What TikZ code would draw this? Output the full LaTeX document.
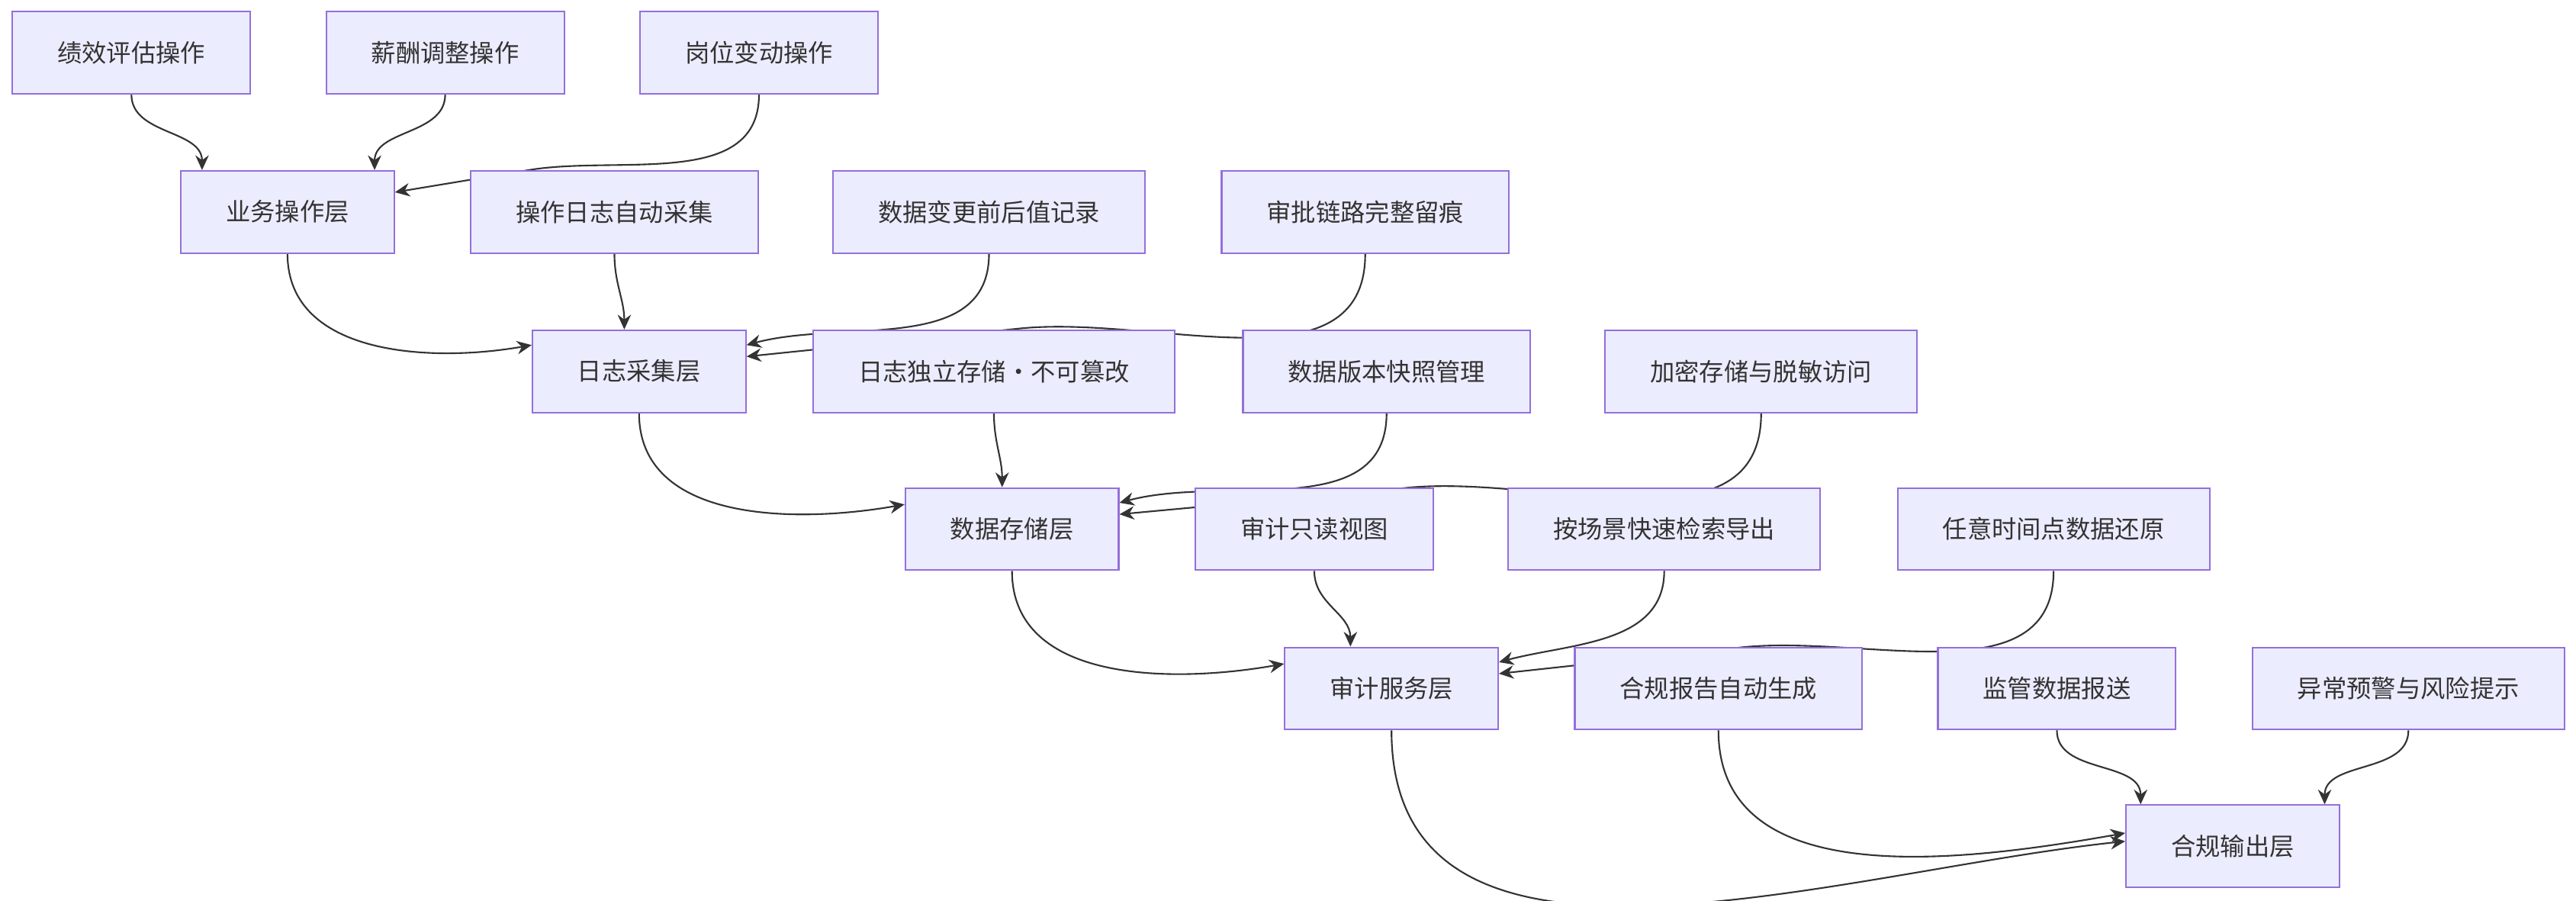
\documentclass[tikz,border=0pt]{standalone}
\usepackage{fontspec}
\setmainfont{Noto Sans CJK SC}
\usetikzlibrary{arrows.meta, calc, backgrounds}
\definecolor{boxfill}{HTML}{ECECFF}
\definecolor{boxline}{HTML}{9370DB}
\definecolor{pilcol}{HTML}{333333}

\begin{document}
\begin{tikzpicture}[
    x=0.02154cm, y=0.02154cm,
    punkt/.style = {rectangle, draw=boxline, fill=boxfill, line width=0.6pt,
                    minimum height=1.077cm, inner xsep=0.59cm, text=pilcol},
    pil/.style = {pilcol, line width=0.6pt, -{Stealth[length=5.5pt,width=5pt]}},
    font=\fontsize{9.2}{11}\selectfont
    ]
  \useasboundingbox (0,0) rectangle (1568,-548);

  \node[punkt] (jx) at (80,-32) {绩效评估操作};
  \node[punkt] (xc) at (271,-32) {薪酬调整操作};
  \node[punkt] (gw) at (462,-32) {岗位变动操作};

  \node[punkt] (yw) at (175,-129) {业务操作层};
  \node[punkt] (czrz) at (374,-129) {操作日志自动采集};
  \node[punkt] (sjbg) at (602,-129) {数据变更前后值记录};
  \node[punkt] (spll) at (831,-129) {审批链路完整留痕};

  \node[punkt] (rz) at (389,-226) {日志采集层};
  \node[punkt] (dlcc) at (605,-226) {日志独立存储·不可篡改};
  \node[punkt] (bbkz) at (844,-226) {数据版本快照管理};
  \node[punkt] (jmcc) at (1072,-226) {加密存储与脱敏访问};

  \node[punkt] (cc) at (616,-322) {数据存储层};
  \node[punkt] (sjst) at (800,-322) {审计只读视图};
  \node[punkt] (acj) at (1013,-322) {按场景快速检索导出};
  \node[punkt] (rysj) at (1250,-322) {任意时间点数据还原};

  \node[punkt] (fw) at (847,-419) {审计服务层};
  \node[punkt] (hgbg) at (1046,-419) {合规报告自动生成};
  \node[punkt] (jg) at (1252,-419) {监管数据报送};
  \node[punkt] (yc) at (1466,-419) {异常预警与风险提示};

  \node[punkt] (hg) at (1359,-515) {合规输出层};

  \begin{scope}[on background layer]
  % operations into the business layer
  \draw[pil] (jx.south) to[out=-90,in=90] ($(yw.north)+(-52,0)$);
  \draw[pil] (xc.south) to[out=-90,in=90] ($(yw.north)+(53,0)$);
  \draw[pil] (gw.south) to[out=-90,in=8] (325,-103) -- ($(yw.east)+(0,12)$);

  % log capture
  \draw[pil] (yw.south) to[out=-90,in=190] ($(rz.west)+(0,16)$);
  \draw[pil] (czrz.south) to[out=-90,in=90] ($(rz.north)+(-9,0)$);
  \draw[pil] (sjbg.south) to[out=-90,in=15] ($(rz.east)+(0,16)$);
  \draw[pil] (spll.south) to[out=-90,in=6] (620,-200) -- ($(rz.east)+(0,9)$);

  % storage
  \draw[pil] (rz.south) to[out=-90,in=190] ($(cc.west)+(0,15)$);
  \draw[pil] (dlcc.south) to[out=-90,in=90] ($(cc.north)+(-6,0)$);
  \draw[pil] (bbkz.south) to[out=-90,in=15] ($(cc.east)+(0,16)$);
  \draw[pil] (jmcc.south) to[out=-90,in=6] (855,-297) -- ($(cc.east)+(0,9)$);

  % audit service
  \draw[pil] (cc.south) to[out=-90,in=190] ($(fw.west)+(0,15)$);
  \draw[pil] (sjst.south) to[out=-90,in=90] ($(fw.north)+(-25,0)$);
  \draw[pil] (acj.south) to[out=-90,in=15] ($(fw.east)+(0,16)$);
  \draw[pil] (rysj.south) to[out=-90,in=6] (1060,-394) -- ($(fw.east)+(0,9)$);

  % compliance output
  \draw[pil] (fw.south) to[out=-90,in=186] ($(hg.west)+(0,3)$);
  \draw[pil] (hgbg.south) to[out=-90,in=190] ($(hg.west)+(0,8)$);
  \draw[pil] (jg.south) to[out=-90,in=90] ($(hg.north)+(-56,0)$);
  \draw[pil] (yc.south) to[out=-90,in=90] ($(hg.north)+(56,0)$);
  \end{scope}

\end{tikzpicture}
\end{document}
